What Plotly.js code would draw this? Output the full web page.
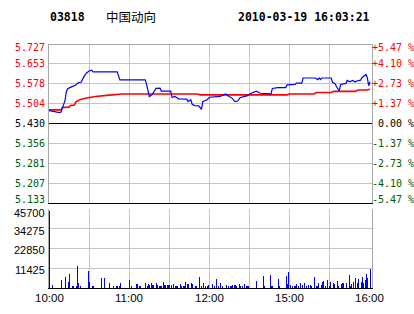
<!DOCTYPE html>
<html>
<head>
<meta charset="utf-8">
<script src="https://cdn.plot.ly/plotly-3.0.1.min.js"></script>
<style>html,body{margin:0;padding:0;background:#fff;}#chart{width:414px;height:314px;}</style>
</head>
<body>
<div id="chart"></div>
<script>
// ---- data ----
const stockCode = "03818";
const stockName = "中国动向";
const stamp = "2010-03-19 16:03:21";
const prevClose = 5.430;

const priceTicks = [5.133, 5.207, 5.281, 5.356, 5.430, 5.504, 5.578, 5.653, 5.727];
const priceLabels = ["5.133", "5.207", "5.281", "5.356", "5.430", "5.504", "5.578", "5.653", "5.727"];
const pctLabels = ["-5.47 %", "-4.10 %", "-2.73 %", "-1.37 %", "0.00 %", "+1.37 %", "+2.73 %", "+4.10 %", "+5.47 %"];

const volTicks = [0, 11425, 22850, 34275, 45700];
const volLabels = ["", "11425", "22850", "34275", "45700"];

// minute index (0 = 10:00, lunch break removed)
const timeGridVals = [0, 30, 60, 90, 120, 150, 180, 210];
const timeTickVals = [0, 60, 120, 180, 240];
const timeTickText = ["10:00", "11:00", "12:00", "15:00", "16:00"];

const priceMinutes = [0,4,8,9,10,11,12,13,14,16,20,22,24,26,28,30,32,33,51,53,72,73,75,77,78,80,83,84,91,92,94,97,103,104,106,107,109,112,114,115,118,120,128,132,134,136,137,139,141,143,148,150,152,155,158,166,167,171,177,178,184,185,189,190,199,201,202,203,204,211,212,214,215,217,218,222,223,225,227,229,230,233,234,237,238,239,240];
const priceValues = [5.478,5.474,5.471,5.473,5.486,5.497,5.516,5.550,5.560,5.565,5.574,5.583,5.584,5.604,5.619,5.626,5.629,5.623,5.623,5.593,5.593,5.575,5.531,5.537,5.544,5.561,5.562,5.551,5.551,5.527,5.531,5.522,5.521,5.512,5.519,5.502,5.497,5.496,5.483,5.512,5.518,5.528,5.531,5.540,5.533,5.525,5.524,5.512,5.514,5.527,5.533,5.540,5.545,5.551,5.543,5.541,5.561,5.564,5.564,5.574,5.576,5.581,5.581,5.600,5.600,5.594,5.600,5.594,5.600,5.600,5.584,5.578,5.567,5.552,5.576,5.580,5.591,5.586,5.591,5.585,5.589,5.592,5.601,5.613,5.601,5.571,5.586];

const avgMinutes = [0,9,10,15,16,19,20,23,28,35,43,55,111,113,178,180,198,200,211,213,229,231,237,239,240];
const avgValues = [5.481,5.481,5.490,5.491,5.497,5.499,5.510,5.519,5.525,5.531,5.535,5.540,5.540,5.537,5.537,5.540,5.540,5.546,5.546,5.550,5.550,5.555,5.555,5.558,5.558];

const volMinutes = [0,2,9,12,14,15,17,18,20,21,22,23,29,30,32,33,39,41,45,48,50,51,52,53,60,61,65,66,67,68,72,73,74,75,76,77,78,80,81,82,83,84,85,86,87,88,89,90,91,93,94,95,96,98,99,100,101,102,103,104,106,107,109,110,112,114,115,117,118,119,122,123,125,126,128,129,132,134,135,136,137,138,139,140,142,143,144,146,147,148,149,155,160,161,165,166,167,171,172,177,178,179,180,182,183,184,185,186,188,189,191,192,194,195,196,198,200,201,203,204,205,206,208,209,210,212,213,215,216,218,219,220,222,224,225,226,227,229,230,231,233,234,235,236,237,238,240];
const volValues = [44800,1900,4800,6100,3500,8300,1300,1300,1300,12500,2900,1300,10100,3500,1300,1300,5500,5500,2900,1300,1300,1300,1300,2900,4800,1300,2500,2500,1300,1300,3100,1300,2300,1700,2700,1500,1500,2700,1900,1300,1300,1300,3500,1500,1500,1700,1700,1700,1500,2300,1300,1300,1300,2300,1300,1300,1300,3500,2500,2500,3100,2500,1300,1300,6400,1300,3100,1300,1300,1900,2300,1300,5400,1300,3100,1300,1900,1300,1300,1300,1900,1900,1900,1300,2500,1300,1300,2300,1300,1300,1300,4200,6700,1300,7700,1300,1300,5200,1300,6700,2300,9000,1900,1300,1300,1300,2300,1300,2700,1900,2700,1300,1900,1900,1300,6400,1300,2900,1900,3500,3800,1300,4400,1300,3500,3100,2300,4200,1300,2300,2700,3100,2900,7300,1300,2300,3500,5800,2700,5400,3500,6100,2700,4600,8100,5800,11200];

// ---- styles ----
const RED = "#ff0000", GREEN = "#005a00", BLACK = "#000000", BLUE = "#0000ff";
const GRID = "#c4c4c4", BORDER = "#a8a8a8";
const MONO = "DejaVu Sans Mono", SANS = "Liberation Sans";
const NBSP = "\u00a0";

const traces = [
  { x: avgMinutes, y: avgValues, type: "scatter", mode: "lines", xaxis: "x2", yaxis: "y",
    line: { color: RED, width: 1.6 }, hoverinfo: "skip" },
  { x: priceMinutes, y: priceValues, type: "scatter", mode: "lines", xaxis: "x2", yaxis: "y",
    line: { color: BLUE, width: 1.2 }, hoverinfo: "skip" },
  { x: [], y: [], type: "scatter", mode: "lines", xaxis: "x2", yaxis: "y3", hoverinfo: "skip" },
  { x: volMinutes, y: volValues, type: "bar", xaxis: "x", yaxis: "y2",
    width: 0.75, offset: 0, marker: { color: BLUE, line: { width: 0 } }, hoverinfo: "skip" }
];

const annotations = [];
priceTicks.forEach((v, i) => {
  const col = v > prevClose + 1e-9 ? RED : (v < prevClose - 1e-9 ? GREEN : BLACK);
  const ys = i === priceTicks.length - 1 ? -3 : (i === 0 ? 3 : 0);
  const pct = /^[+-]/.test(pctLabels[i]) ? pctLabels[i] : NBSP + pctLabels[i];
  annotations.push({ xref: "paper", x: 0, xanchor: "right", xshift: -2, yref: "y", y: v, yanchor: "middle", yshift: ys,
    text: priceLabels[i], showarrow: false, font: { family: MONO, size: 10, color: col } });
  annotations.push({ xref: "paper", x: 1, xanchor: "left", xshift: -2, yref: "y", y: v, yanchor: "middle", yshift: ys,
    text: pct, showarrow: false, font: { family: MONO, size: 10, color: col } });
});
volTicks.forEach((v, i) => {
  if (!volLabels[i]) return;
  const ys = i === volTicks.length - 1 ? -4 : -2;
  annotations.push({ xref: "paper", x: 0, xanchor: "right", xshift: -2, yref: "y2", y: v, yanchor: "middle", yshift: ys,
    text: volLabels[i], showarrow: false, font: { family: SANS, size: 11, color: BLACK } });
});
timeTickVals.forEach((v, i) => {
  annotations.push({ xref: "x", x: v, xanchor: "center", yref: "paper", y: -0.039, yanchor: "middle",
    text: timeTickText[i], showarrow: false, font: { family: SANS, size: 11.5, color: BLACK } });
});
annotations.push({ xref: "paper", yref: "paper", x: 0.003, y: 1.112, xanchor: "left", yanchor: "middle", xshift: -2,
  text: "<b>" + stockCode + "</b>", showarrow: false, font: { family: MONO, size: 11.5, color: BLACK } });
annotations.push({ xref: "paper", yref: "paper", x: 0.1765, y: 1.112, xanchor: "left", yanchor: "middle", xshift: -2,
  text: stockName, showarrow: false, font: { family: "Noto Sans CJK SC", size: 12.5, color: BLACK } });
annotations.push({ xref: "paper", yref: "paper", x: 0.9938, y: 1.112, xanchor: "right", yanchor: "middle", xshift: 2,
  text: "<b>" + stamp + "</b>", showarrow: false, font: { family: MONO, size: 11.5, color: BLACK } });

const shapes = [
  // top border of the price panel, placed on a half pixel so it stays crisp
  { type: "line", xref: "paper", yref: "paper", x0: 0, x1: 1, y0: (244 - 0.5) / 244, y1: (244 - 0.5) / 244,
    line: { color: BORDER, width: 1 } }
];

const xCommon = { range: [0, 241.5], tickmode: "array", tickvals: timeGridVals, showticklabels: false,
  showgrid: true, gridcolor: GRID, gridwidth: 1, zeroline: false, showline: true, linecolor: BLACK, linewidth: 1,
  ticks: "", fixedrange: true };

const layout = {
  width: 414, height: 314,
  margin: { l: 49, r: 42, t: 44, b: 26, pad: 0 },
  paper_bgcolor: "#ffffff", plot_bgcolor: "#ffffff",
  showlegend: false, bargap: 0,
  xaxis: Object.assign({}, xCommon, { anchor: "y2" }),
  xaxis2: Object.assign({}, xCommon, { anchor: "y", matches: "x" }),
  yaxis: { domain: [0.3484, 1], range: [5.133, 5.727], tickmode: "array", tickvals: priceTicks, anchor: "x2",
    showticklabels: false, showgrid: true, gridcolor: GRID, gridwidth: 1, zeroline: false,
    showline: true, linecolor: BORDER, linewidth: 1, mirror: true, ticks: "", fixedrange: true },
  yaxis3: { overlaying: "y", range: [5.133, 5.727], tickmode: "array", tickvals: [prevClose], anchor: "x2",
    showticklabels: false, showgrid: true, gridcolor: BLACK, gridwidth: 1, zeroline: false, showline: false, ticks: "", fixedrange: true },
  yaxis2: { domain: [0, 0.3238], range: [0, 45700], tickmode: "array", tickvals: volTicks, anchor: "x",
    showticklabels: false, showgrid: true, gridcolor: GRID, gridwidth: 1, zeroline: false,
    showline: true, linecolor: BORDER, linewidth: 1, mirror: true, ticks: "", fixedrange: true },
  annotations: annotations,
  shapes: shapes
};

Plotly.newPlot("chart", traces, layout, { staticPlot: true, displayModeBar: false });
</script>
</body>
</html>
